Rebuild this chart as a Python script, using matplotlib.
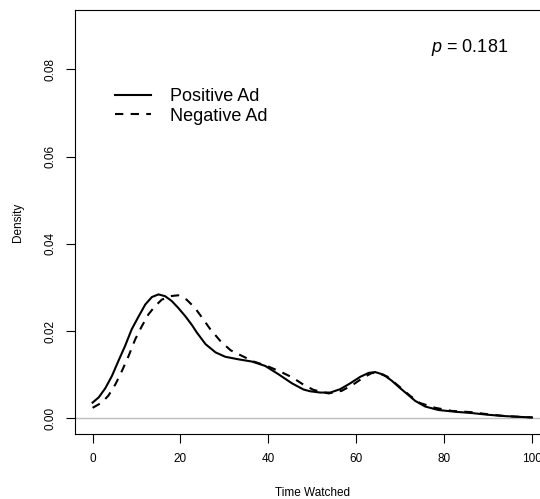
import matplotlib
matplotlib.use("Agg")
import matplotlib.pyplot as plt

plt.rcParams['font.family'] = ['Liberation Sans', 'DejaVu Sans']
plt.rcParams['mathtext.fontset'] = 'custom'
plt.rcParams['mathtext.it'] = 'Liberation Sans:italic'
plt.rcParams['mathtext.rm'] = 'Liberation Sans'

# density curves
pos_x = [0, 1.4, 2.9, 4.4, 5.9, 7.4, 8.9, 10.5, 12, 13.5, 15, 16.5, 18,
         19.5, 21.1, 22.6, 23.7, 25.7, 28, 30.2, 33.3, 36.3, 39.3, 42.3,
         45.4, 48, 49.5, 51.8, 54.1, 56.4, 58.6, 60.9, 62.8, 64.3, 66.2,
         68.1, 70, 71.9, 73.4, 75.7, 78.7, 82.5, 86.3, 90.1, 93.9, 97.7, 100]
pos_y = [0.0036, 0.0048, 0.0069, 0.0097, 0.0132, 0.0166, 0.0204, 0.0234,
         0.0261, 0.0278, 0.0284, 0.0280, 0.0269, 0.0253, 0.0234, 0.0214,
         0.0197, 0.0170, 0.0151, 0.0141, 0.0135, 0.0130, 0.0120, 0.0101,
         0.0080, 0.0066, 0.0062, 0.0059, 0.0059, 0.0067, 0.0080, 0.0095,
         0.0104, 0.0106, 0.0100, 0.0086, 0.0069, 0.0053, 0.0040, 0.0027,
         0.0019, 0.0015, 0.0012, 0.0008, 0.0005, 0.0003, 0.0002]

neg_x = [0, 2.1, 3.6, 5.2, 6.7, 8.2, 9.7, 11.2, 12.7, 14.2, 15.75, 17.7,
         19.5, 21.4, 23.3, 24.9, 26.8, 29.1, 31.4, 34, 36.7, 39.7, 42.7,
         45.4, 48, 50.3, 53.7, 56.7, 59.4, 61.7, 63.6, 64.8, 67, 70, 72.2,
         74.5, 78, 81.7, 86.3, 90.1, 93.9, 100]
neg_y = [0.0024, 0.0036, 0.0052, 0.0078, 0.0109, 0.0143, 0.0181, 0.0211,
         0.0238, 0.0257, 0.0272, 0.0280, 0.0282, 0.0272, 0.0253, 0.0231,
         0.0204, 0.0177, 0.0156, 0.0143, 0.0130, 0.0120, 0.0107, 0.0094,
         0.0077, 0.0065, 0.0057, 0.0063, 0.0078, 0.0094, 0.0104, 0.0104,
         0.0096, 0.0071, 0.0052, 0.0035, 0.0024, 0.0017, 0.0014, 0.0009,
         0.0005, 0.0002]

x_ticks = [0, 20, 40, 60, 80, 100]
y_ticks = [0.00, 0.02, 0.04, 0.06, 0.08]
p_label = r"$p$ = 0.181"

fig = plt.figure(figsize=(5.4, 4.99), dpi=100)
ax = fig.add_axes([75 / 540, 1 - 434 / 499, 474.6 / 540, 424 / 499])

ax.axhline(0, color='#BEBEBE', lw=1, zorder=1)
ax.plot(pos_x, pos_y, color='black', lw=1.5, ls='-', label='Positive Ad',
        solid_joinstyle='round')
ax.plot(neg_x, neg_y, color='black', lw=1.5, ls=(0, (4, 3.5)), label='Negative Ad',
        dash_joinstyle='round')

ax.set_xlim(-4, 104)
ax.set_ylim(-0.0036, 0.0936)
ax.set_xticks(x_ticks)
ax.set_xticklabels([str(t) for t in x_ticks])
ax.set_yticks(y_ticks)
ax.set_yticklabels(['%.2f' % t for t in y_ticks], rotation=90, va='center')
ax.tick_params(length=6.5, width=0.8, labelsize=8.5, pad=7)
ax.spines['right'].set_visible(False)
for s in ['left', 'top', 'bottom']:
    ax.spines[s].set_linewidth(0.8)

ax.set_xlabel('Time Watched', fontsize=8.5)
ax.xaxis.set_label_coords(0.5, -0.139)
ax.set_ylabel('Density', fontsize=8.5)
ax.yaxis.set_label_coords(-0.12, 0.5)
ax.xaxis.label.set_va('center')
ax.yaxis.label.set_va('center')

ax.text(85.7, 0.085, p_label, fontsize=13, ha='center', va='center')

ax.legend(loc='upper left', bbox_to_anchor=(0.085, 0.815), frameon=False,
          fontsize=13, handlelength=2.0, handletextpad=1.0, labelspacing=0.12,
          borderaxespad=0, borderpad=0)

fig.savefig('out.png', dpi=100)
